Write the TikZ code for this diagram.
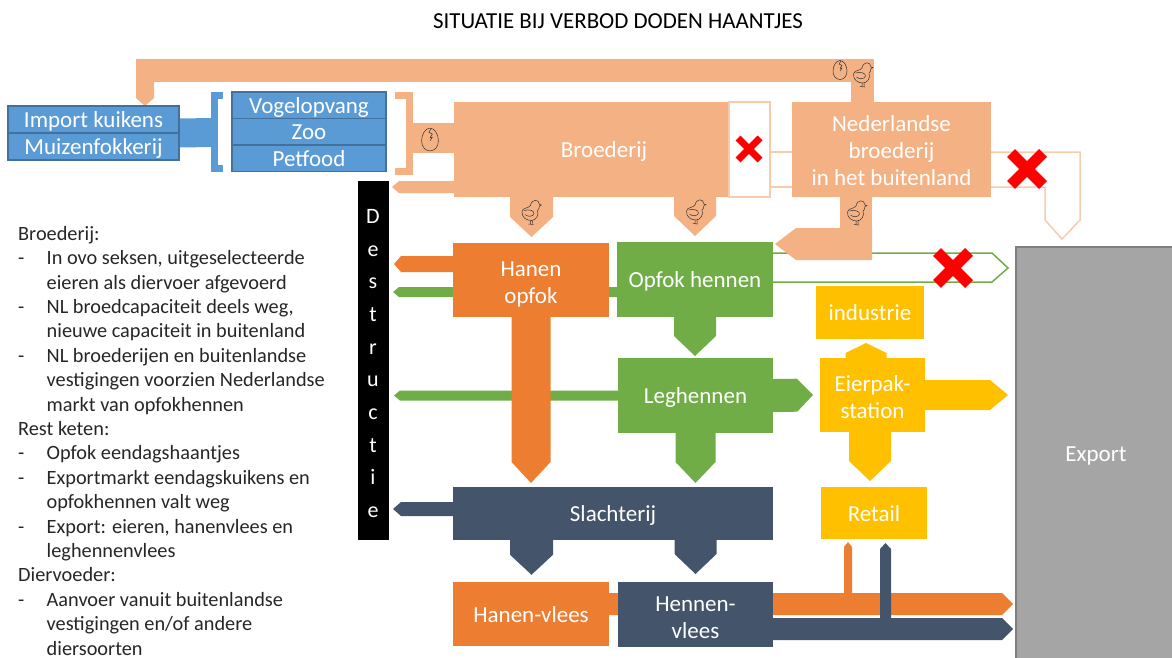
\documentclass[tikz,border=0pt]{standalone}
\usepackage{fontspec}
\setmainfont{Carlito}
\usetikzlibrary{calc}
\definecolor{lor}{HTML}{F4B183}
\definecolor{lorl}{HTML}{F8CBAD}
\definecolor{oran}{HTML}{ED7D31}
\definecolor{gree}{HTML}{70AD47}
\definecolor{blu}{HTML}{5B9BD5}
\definecolor{blud}{HTML}{41719C}
\definecolor{dark}{HTML}{44546A}
\definecolor{yel}{HTML}{FFC000}
\definecolor{gry}{HTML}{A5A5A5}
\definecolor{gryd}{HTML}{7F7F7F}
\definecolor{txt}{HTML}{262626}
\pgfdeclarelayer{bg}
\pgfsetlayers{bg,main}
% block arrow: colour, shaft width, head length, from, to
\newcommand\blockarrow[5]{%
  \pgfmathsetlengthmacro\halfw{#2pt/2}%
  \coordinate (cs) at #4;
  \coordinate (ce) at #5;
  \coordinate (cp) at ($(ce)!#3pt!(cs)$);
  \fill[#1] ($(cs)!\halfw!90:(ce)$) -- ($(cp)!\halfw!90:(ce)$) -- (ce)
     -- ($(cp)!\halfw!-90:(ce)$) -- ($(cs)!\halfw!-90:(ce)$) -- cycle;
}
\tikzset{
  bx/.style n args={3}{fill=#1,text=white,minimum width=#2pt,minimum height=#3pt,inner sep=0pt,outer sep=0pt,align=center,font=\fontsize{23}{27}\selectfont,
    execute at begin node={\rule{0pt}{21pt}},execute at end node={\rule[-5pt]{0pt}{5pt}}},
  bluebox/.style n args={2}{bx={blu}{#1}{#2},draw=blud,line width=1.2pt},
  band/.style n args={2}{draw=#1,line width=#2pt,line join=miter},
  hollow/.style n args={1}{draw=#1,line width=1.5pt},
  redx/.style={draw=red,line cap=butt},
  sketch/.style={draw=black!80,line width=0.5pt,line join=round},
  chick/.pic={
    \draw[sketch] (-1,-6) .. controls (0,-12.5) and (7.5,-13) .. (8,-7) -- (10,-6.5) -- (8,-5.5)
      .. controls (8,-3) and (7,-2) .. (6,-1) .. controls (8,4) and (4,9) .. (0,9)
      .. controls (-5,9) and (-10,6) .. (-9.5,0) .. controls (-9,-4) and (-3,-3) .. (-1,-6);
    \draw[sketch] (-7.5,-1) .. controls (-3,-2.5) and (3,-1) .. (2.5,2) .. controls (1.5,5.5) and (-4,5.5) .. (-6.5,3);
    \draw[sketch] (-1,9) -- (-1,12.5) (1,9) -- (1,12) (-3,12.5) -- (2,13);
  },
  egg/.pic={
    \draw[sketch] (0,-9.5) .. controls (4,-9.5) and (7,-4) .. (7,1) .. controls (7,6) and (4,9.5) .. (0,9.5)
      .. controls (-4,9.5) and (-7,6) .. (-7,1) .. controls (-7,-4) and (-4,-9.5) .. (0,-9.5);
    \draw[sketch] (1,-9) -- (-1,-6) -- (2,-4.5) -- (0,-1.5) -- (2,-2) -- (0,1);
  },
}
\begin{document}
\begin{tikzpicture}[x=1pt,y=-1pt]
\useasboundingbox (0,0) rectangle (1172,657);

% Title and notes
\node[text=black,font=\fontsize{22.9}{26}\selectfont,inner sep=0pt] (title) at (618,21) {SITUATIE BIJ VERBOD DODEN HAANTJES};
\node[anchor=north west,inner sep=0pt,align=left,text=txt,font=\fontsize{20.3}{24.4}\selectfont] (notes) at (18,226) {%
Broederij:\\
\makebox[28.5pt][l]{-}In ovo seksen, uitgeselecteerde\\
\hspace*{28.5pt}eieren als diervoer afgevoerd\\
\makebox[28.5pt][l]{-}NL broedcapaciteit deels weg,\\
\hspace*{28.5pt}nieuwe capaciteit in buitenland\\
\makebox[28.5pt][l]{-}NL broederijen en buitenlandse\\
\hspace*{28.5pt}vestigingen voorzien Nederlandse\\
\hspace*{28.5pt}markt van opfokhennen\\
Rest keten:\\
\makebox[28.5pt][l]{-}Opfok eendagshaantjes\\
\makebox[28.5pt][l]{-}Exportmarkt eendagskuikens en\\
\hspace*{28.5pt}opfokhennen valt weg\\
\makebox[28.5pt][l]{-}Export: eieren, hanenvlees en\\
\hspace*{28.5pt}leghennenvlees\\
Diervoeder:\\
\makebox[28.5pt][l]{-}Aanvoer vanuit buitenlandse\\
\hspace*{28.5pt}vestigingen en/of andere\\
\hspace*{28.5pt}diersoorten};

% Blue boxes
\node[bluebox={171}{27}] (imp1) at (93.5,119.5) {Import kuikens};
\node[bluebox={171}{27}] (imp2) at (93.5,146.5) {Muizenfokkerij};
\node[bluebox={154}{26.5}] (vogel) at (309,105.25) {Vogelopvang};
\node[bluebox={154}{26.5}] (zoo) at (309,131.75) {Zoo};
\node[bluebox={154}{26.5}] (pet) at (309,158.5) {Petfood};

% Main blocks
\node[bx={lor}{275}{95}] (broed) at (591.5,149.5) {\hspace*{25pt}Broederij};
\node[bx={lor}{199}{95}] (ned) at (891.5,149.5) {\rule{0pt}{23.5pt}Nederlandse\\broederij\\in het buitenland};
\node[bx={black}{30}{358},draw=black,line width=0.5pt,font=\fontsize{22}{32.7}\selectfont] (destr) at (373,360) {\rule{0pt}{26pt}D\\e\\s\\t\\r\\u\\c\\t\\i\\e};
\node[bx={oran}{156}{74}] (hanen) at (531,280) {\rule{0pt}{24pt}Hanen\\opfok};
\node[bx={gree}{156}{75}] (opfok) at (695,279.5) {Opfok hennen};
\node[bx={gree}{155}{75}] (legh) at (695.5,395.5) {Leghennen};
\node[bx={yel}{108}{53}] (indus) at (870,312.5) {industrie};
\node[bx={yel}{105}{74}] (eier) at (872.5,395) {\rule{0pt}{25pt}Eierpak-\\station};
\node[bx={yel}{106}{52}] (retail) at (874,513) {Retail};
\node[bx={dark}{320}{53}] (slacht) at (613,513.5) {Slachterij};
\node[bx={oran}{156}{64.5}] (hvlees) at (531,614) {Hanen-vlees};
\node[bx={dark}{155}{65}] (hnvlees) at (695.5,614.5) {\rule{0pt}{26pt}Hennen-\\vlees};
\node[bx={gry}{160}{412},draw=gryd,line width=1.5pt] (export) at (1096,453) {Export};

\begin{pgfonlayer}{bg}
  % Top supply band
  \draw[band={lor}{23}] (ned.north -| 862.5,0) -- (862.5,70.5) -- (136,70.5);
  \blockarrow{lor}{18}{8}{(145,59)}{(imp1.north -| 145,0)}
  % Blue link and bracket
  \draw[band={blu}{29}] (imp1.south east) -- (212,132.5);
  \draw[band={blu}{7}] (223,95.5) -- (214.5,95.5) -- (214.5,168.5) -- (223,168.5);
  % Orange bracket and link
  \draw[band={lor}{7}] (395,95.5) -- (409.5,95.5) -- (409.5,171) -- (395,171);
  \draw[band={lor}{30}] (413,138) -- (broed.west |- 0,138);
  % Broederij outputs
  \blockarrow{lor}{12}{7}{(broed.west |- 0,187)}{([xshift=4pt]destr.east |- 0,187)}
  \blockarrow{lor}{43}{20}{(broed.south -| 531.5,0)}{([yshift=6pt]hanen.north -| 531.5,0)}
  \blockarrow{lor}{42}{20}{(broed.south -| opfok.north)}{([yshift=6pt]opfok.north)}
  % Hollow connector through Opfok hennen
  \draw[hollow={gree}] (opfok.east |- 0,253) -- (992,253) -- (1008,268) -- (992,282) -- (opfok.east |- 0,282);
  % Nederlandse broederij bottom
  \draw[band={lor}{32}] (ned.south -| 856,0) -- (856,244);
  \blockarrow{lor}{32}{21}{(872,244)}{(775,244)}
  % Link hollow between broederij and ned
  \draw[hollow={lorl}] (770,152) -- (ned.west |- 0,152) (770,187) -- (ned.west |- 0,187);
  % Hollow export arrow
  \draw[hollow={lorl}] (ned.east |- 0,152) -- (1080,152) -- (1080,220) -- (1062,239) -- (1045,220) -- (1045,187) -- (ned.east |- 0,187);
  % Destruction arrows
  \blockarrow{oran}{16}{7}{(hanen.west |- 0,264)}{([xshift=6pt]destr.east |- 0,264)}
  \blockarrow{gree}{10}{6}{(opfok.west |- 0,292)}{([xshift=5pt]destr.east |- 0,292)}
  \blockarrow{gree}{10}{6}{(legh.west)}{([xshift=6pt]destr.east |- legh.west)}
  \blockarrow{dark}{14}{8}{(slacht.west |- 0,509)}{([xshift=5pt]destr.east |- 0,509)}
  % Chain
  \blockarrow{oran}{39}{21}{(hanen.south)}{([yshift=4pt]slacht.north -| hanen.south)}
  \blockarrow{gree}{42}{20}{(opfok.south)}{([yshift=2pt]legh.north -| opfok.south)}
  \blockarrow{gree}{33}{16}{(legh.east)}{([xshift=-7pt]eier.west)}
  \blockarrow{gree}{40}{21}{(legh.south)}{([yshift=4pt]slacht.north -| legh.south)}
  \blockarrow{yel}{30}{18}{(eier.east)}{([xshift=-8pt]export.west |- eier.east)}
  \blockarrow{yel}{41}{10}{(eier.north -| 866,0)}{([yshift=-4pt]indus.south -| 866,0)}
  \blockarrow{yel}{42}{20}{(eier.south -| 870,0)}{([yshift=6pt]retail.north -| 870,0)}
  \blockarrow{dark}{43}{20}{(slacht.south -| 531.5,0)}{([yshift=7pt]hvlees.north -| 531.5,0)}
  \blockarrow{dark}{42}{20}{(slacht.south -| hnvlees.north)}{([yshift=8pt]hnvlees.north)}
  % Meat flows
  \blockarrow{oran}{22}{11}{(hvlees.east |- 0,604)}{([xshift=-3pt]export.west |- 0,604)}
  \blockarrow{dark}{22}{11}{(hnvlees.east |- 0,629)}{([xshift=-3pt]export.west |- 0,629)}
  \blockarrow{oran}{8}{5}{(848,600)}{([yshift=-3pt]retail.south -| 848,0)}
  \blockarrow{dark}{11}{6}{(885.5,625)}{([yshift=-4pt]retail.south -| 885.5,0)}
\end{pgfonlayer}

% Hollow box behind the red cross
\draw[hollow={lorl},fill=white] (broed.north east) rectangle (770,197);

% Eggs and chicks
\pic[scale=1.2] at (430,139.5) {egg};
\pic at (840,70) {egg};
\pic at (863,74) {chick};
\pic at (857,212) {chick};
\pic at (531.5,211.5) {chick};
\pic at (696,211) {chick};

% Red crosses
\draw[redx,line width=7pt] (738,138) -- (760,160) (738,160) -- (760,138);
\draw[redx,line width=11pt] (1011,153) -- (1043,185) (1011,185) -- (1043,153);
\draw[redx,line width=11pt] (937,252) -- (969,284) (937,284) -- (969,252);
\end{tikzpicture}
\end{document}
